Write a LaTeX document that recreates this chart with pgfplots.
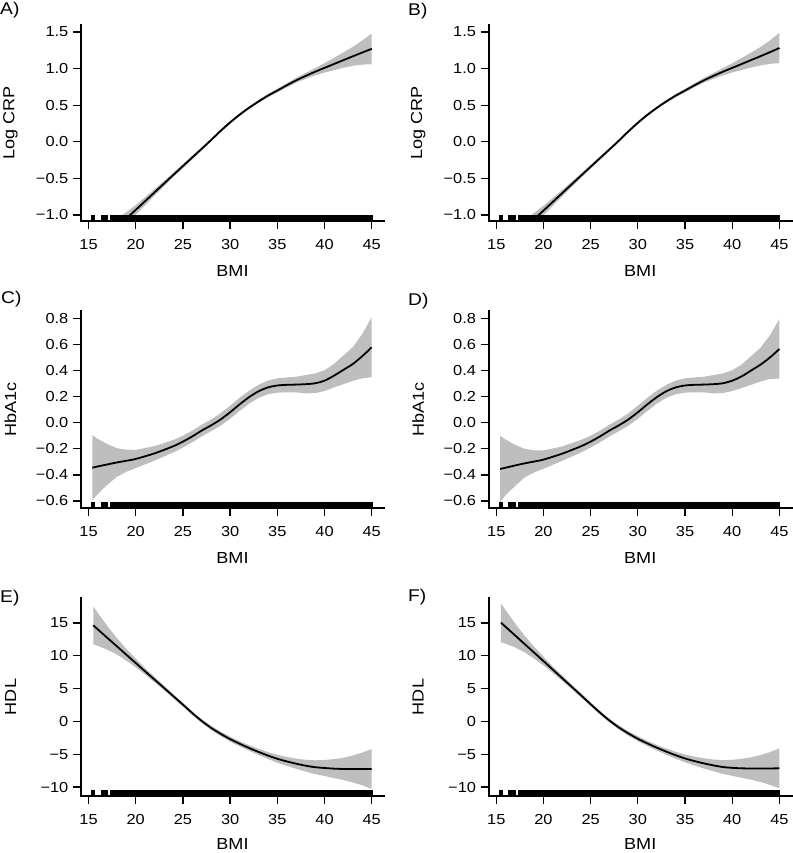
\documentclass[border=0pt]{standalone}
\usepackage{fontspec}
\setmainfont{Liberation Sans}[FakeStretch=1.13]
\usepackage{pgfplots}
\usepackage{pgfplotstable}
\pgfplotsset{compat=1.18}
\definecolor{bandgray}{RGB}{190,190,190}
\newcommand\tickfont{\fontsize{14.5}{17}\selectfont}
\newcommand\labfont{\fontsize{16}{19}\selectfont}
\newcommand\letfont{\fontsize{17}{20}\selectfont}

% x = BMI, y = fitted, hi/lo = confidence band
\pgfplotstableread{
x y hi lo
15.4 -1.46 -1.27 -1.65
17 -1.28 -1.13 -1.43
18 -1.165 -1.055 -1.275
19 -1.047 -0.962 -1.132
20 -0.93 -0.865 -0.995
22 -0.69 -0.645 -0.735
24 -0.45 -0.42 -0.48
26 -0.213 -0.188 -0.238
27.7 -0.01 0.01 -0.03
29 0.15 0.17 0.13
30 0.265 0.285 0.245
31 0.37 0.39 0.35
32 0.465 0.485 0.445
33 0.55 0.57 0.53
34 0.63 0.652 0.608
35 0.70 0.725 0.675
36 0.772 0.80 0.744
37 0.84 0.873 0.807
38 0.90 0.94 0.86
39 0.957 1.007 0.907
40 1.01 1.075 0.945
41 1.063 1.148 0.978
42 1.116 1.221 1.011
43 1.168 1.298 1.038
44 1.22 1.385 1.055
45 1.27 1.48 1.06
}\tabA
\pgfplotstableread{
x y hi lo
15.4 -1.47 -1.28 -1.66
17 -1.29 -1.14 -1.44
18 -1.175 -1.065 -1.285
19 -1.057 -0.972 -1.142
20 -0.94 -0.875 -1.005
22 -0.70 -0.655 -0.745
24 -0.46 -0.43 -0.49
26 -0.222 -0.197 -0.247
27.7 -0.02 0.0 -0.04
29 0.142 0.162 0.122
30 0.26 0.28 0.24
31 0.367 0.387 0.347
32 0.463 0.483 0.443
33 0.55 0.57 0.53
34 0.63 0.652 0.608
35 0.70 0.725 0.675
36 0.772 0.80 0.744
37 0.84 0.873 0.807
38 0.90 0.94 0.86
39 0.957 1.007 0.907
40 1.01 1.073 0.947
41 1.063 1.145 0.981
42 1.117 1.219 1.015
43 1.17 1.296 1.044
44 1.225 1.385 1.065
45 1.282 1.49 1.075
}\tabB
\pgfplotstableread{
x y hi lo
15.4 -0.345 -0.095 -0.595
16 -0.335 -0.125 -0.545
17 -0.32 -0.165 -0.475
18 -0.305 -0.195 -0.415
19 -0.292 -0.207 -0.377
20 -0.278 -0.208 -0.348
22 -0.235 -0.18 -0.29
24 -0.18 -0.132 -0.228
25 -0.145 -0.10 -0.19
26 -0.105 -0.06 -0.15
27 -0.06 -0.015 -0.105
28 -0.02 0.025 -0.065
29 0.025 0.073 -0.023
30 0.08 0.13 0.03
31 0.14 0.19 0.09
32 0.195 0.245 0.145
33 0.24 0.29 0.19
34 0.27 0.322 0.218
35 0.285 0.34 0.23
36 0.29 0.347 0.233
37 0.292 0.352 0.232
38 0.295 0.365 0.225
39 0.302 0.377 0.227
40 0.322 0.402 0.242
41 0.36 0.45 0.27
42 0.405 0.515 0.295
43 0.45 0.58 0.32
44 0.51 0.68 0.34
45 0.578 0.808 0.348
}\tabC
\pgfplotstableread{
x y hi lo
15.4 -0.355 -0.10 -0.61
16 -0.345 -0.13 -0.555
17 -0.328 -0.17 -0.485
18 -0.312 -0.20 -0.42
19 -0.298 -0.212 -0.382
20 -0.283 -0.213 -0.353
22 -0.237 -0.182 -0.292
24 -0.18 -0.132 -0.228
25 -0.145 -0.10 -0.19
26 -0.105 -0.06 -0.15
27 -0.06 -0.015 -0.105
28 -0.02 0.025 -0.065
29 0.025 0.073 -0.023
30 0.08 0.13 0.03
31 0.14 0.19 0.09
32 0.195 0.245 0.145
33 0.24 0.29 0.19
34 0.27 0.322 0.218
35 0.285 0.34 0.23
36 0.29 0.347 0.233
37 0.292 0.352 0.232
38 0.295 0.365 0.225
39 0.302 0.377 0.227
40 0.322 0.402 0.242
41 0.355 0.445 0.265
42 0.40 0.51 0.29
43 0.445 0.575 0.315
44 0.50 0.67 0.335
45 0.565 0.795 0.338
}\tabD
\pgfplotstableread{
x y hi lo
15.5 14.64 17.54 11.74
16 14.0 16.5 11.5
17 12.72 14.52 10.92
18 11.45 12.7 10.2
19 10.17 11.07 9.27
20 8.9 9.55 8.25
21 7.62 8.12 7.12
22 6.36 6.78 5.94
23 5.1 5.46 4.74
24 3.82 4.14 3.5
25 2.55 2.85 2.25
26 1.25 1.55 0.95
27 0.05 0.35 -0.25
28 -1.0 -0.68 -1.32
29 -1.9 -1.55 -2.25
30 -2.7 -2.32 -3.08
31 -3.4 -3.0 -3.8
32 -4.05 -3.62 -4.48
33 -4.65 -4.18 -5.12
34 -5.2 -4.68 -5.72
35 -5.7 -5.1 -6.3
36 -6.1 -5.42 -6.78
37 -6.45 -5.67 -7.23
38 -6.75 -5.85 -7.65
39 -6.98 -5.93 -8.03
40 -7.1 -5.88 -8.32
41 -7.2 -5.75 -8.65
42 -7.25 -5.55 -8.95
43 -7.25 -5.2 -9.3
44 -7.25 -4.75 -9.75
45 -7.25 -4.2 -10.3
}\tabE
\pgfplotstableread{
x y hi lo
15.5 15.05 17.95 12.05
16 14.4 16.95 11.85
17 13.1 14.92 11.28
18 11.8 13.07 10.53
19 10.5 11.41 9.59
20 9.2 9.86 8.54
21 7.88 8.38 7.38
22 6.57 6.99 6.15
23 5.26 5.62 4.9
24 3.95 4.27 3.63
25 2.62 2.92 2.32
26 1.32 1.62 1.02
27 0.12 0.42 -0.18
28 -0.93 -0.61 -1.25
29 -1.84 -1.49 -2.19
30 -2.65 -2.27 -3.03
31 -3.35 -2.95 -3.75
32 -4.0 -3.57 -4.43
33 -4.6 -4.13 -5.07
34 -5.15 -4.63 -5.67
35 -5.65 -5.05 -6.25
36 -6.05 -5.37 -6.73
37 -6.4 -5.62 -7.18
38 -6.7 -5.8 -7.6
39 -6.95 -5.9 -8.0
40 -7.08 -5.86 -8.3
41 -7.15 -5.7 -8.6
42 -7.18 -5.48 -8.88
43 -7.18 -5.13 -9.23
44 -7.17 -4.67 -9.67
45 -7.15 -4.1 -10.2
}\tabF
% rug of observed BMI values (x) with the rug baseline of each row (ya, yc, ye)
\pgfplotstableread[row sep=\\]{
x ya yc ye\\
15.4 -1.082 -0.654 -11.37\\15.6 -1.082 -0.654 -11.37\\16.4 -1.082 -0.654 -11.37\\16.6 -1.082 -0.654 -11.37\\
16.8 -1.082 -0.654 -11.37\\17.0 -1.082 -0.654 -11.37\\17.4 -1.082 -0.654 -11.37\\17.6 -1.082 -0.654 -11.37\\
17.8 -1.082 -0.654 -11.37\\18.0 -1.082 -0.654 -11.37\\18.2 -1.082 -0.654 -11.37\\18.4 -1.082 -0.654 -11.37\\
18.6 -1.082 -0.654 -11.37\\18.8 -1.082 -0.654 -11.37\\19.0 -1.082 -0.654 -11.37\\19.2 -1.082 -0.654 -11.37\\
19.4 -1.082 -0.654 -11.37\\19.6 -1.082 -0.654 -11.37\\19.8 -1.082 -0.654 -11.37\\20.0 -1.082 -0.654 -11.37\\
20.2 -1.082 -0.654 -11.37\\20.4 -1.082 -0.654 -11.37\\20.6 -1.082 -0.654 -11.37\\20.8 -1.082 -0.654 -11.37\\
21.0 -1.082 -0.654 -11.37\\21.2 -1.082 -0.654 -11.37\\21.4 -1.082 -0.654 -11.37\\21.6 -1.082 -0.654 -11.37\\
21.8 -1.082 -0.654 -11.37\\22.0 -1.082 -0.654 -11.37\\22.2 -1.082 -0.654 -11.37\\22.4 -1.082 -0.654 -11.37\\
22.6 -1.082 -0.654 -11.37\\22.8 -1.082 -0.654 -11.37\\23.0 -1.082 -0.654 -11.37\\23.2 -1.082 -0.654 -11.37\\
23.4 -1.082 -0.654 -11.37\\23.6 -1.082 -0.654 -11.37\\23.8 -1.082 -0.654 -11.37\\24.0 -1.082 -0.654 -11.37\\
24.2 -1.082 -0.654 -11.37\\24.4 -1.082 -0.654 -11.37\\24.6 -1.082 -0.654 -11.37\\24.8 -1.082 -0.654 -11.37\\
25.0 -1.082 -0.654 -11.37\\25.2 -1.082 -0.654 -11.37\\25.4 -1.082 -0.654 -11.37\\25.6 -1.082 -0.654 -11.37\\
25.8 -1.082 -0.654 -11.37\\26.0 -1.082 -0.654 -11.37\\26.2 -1.082 -0.654 -11.37\\26.4 -1.082 -0.654 -11.37\\
26.6 -1.082 -0.654 -11.37\\26.8 -1.082 -0.654 -11.37\\27.0 -1.082 -0.654 -11.37\\27.2 -1.082 -0.654 -11.37\\
27.4 -1.082 -0.654 -11.37\\27.6 -1.082 -0.654 -11.37\\27.8 -1.082 -0.654 -11.37\\28.0 -1.082 -0.654 -11.37\\
28.2 -1.082 -0.654 -11.37\\28.4 -1.082 -0.654 -11.37\\28.6 -1.082 -0.654 -11.37\\28.8 -1.082 -0.654 -11.37\\
29.0 -1.082 -0.654 -11.37\\29.2 -1.082 -0.654 -11.37\\29.4 -1.082 -0.654 -11.37\\29.6 -1.082 -0.654 -11.37\\
29.8 -1.082 -0.654 -11.37\\30.0 -1.082 -0.654 -11.37\\30.2 -1.082 -0.654 -11.37\\30.4 -1.082 -0.654 -11.37\\
30.6 -1.082 -0.654 -11.37\\30.8 -1.082 -0.654 -11.37\\31.0 -1.082 -0.654 -11.37\\31.2 -1.082 -0.654 -11.37\\
31.4 -1.082 -0.654 -11.37\\31.6 -1.082 -0.654 -11.37\\31.8 -1.082 -0.654 -11.37\\32.0 -1.082 -0.654 -11.37\\
32.2 -1.082 -0.654 -11.37\\32.4 -1.082 -0.654 -11.37\\32.6 -1.082 -0.654 -11.37\\32.8 -1.082 -0.654 -11.37\\
33.0 -1.082 -0.654 -11.37\\33.2 -1.082 -0.654 -11.37\\33.4 -1.082 -0.654 -11.37\\33.6 -1.082 -0.654 -11.37\\
33.8 -1.082 -0.654 -11.37\\34.0 -1.082 -0.654 -11.37\\34.2 -1.082 -0.654 -11.37\\34.4 -1.082 -0.654 -11.37\\
34.6 -1.082 -0.654 -11.37\\34.8 -1.082 -0.654 -11.37\\35.0 -1.082 -0.654 -11.37\\35.2 -1.082 -0.654 -11.37\\
35.4 -1.082 -0.654 -11.37\\35.6 -1.082 -0.654 -11.37\\35.8 -1.082 -0.654 -11.37\\36.0 -1.082 -0.654 -11.37\\
36.2 -1.082 -0.654 -11.37\\36.4 -1.082 -0.654 -11.37\\36.6 -1.082 -0.654 -11.37\\36.8 -1.082 -0.654 -11.37\\
37.0 -1.082 -0.654 -11.37\\37.2 -1.082 -0.654 -11.37\\37.4 -1.082 -0.654 -11.37\\37.6 -1.082 -0.654 -11.37\\
37.8 -1.082 -0.654 -11.37\\38.0 -1.082 -0.654 -11.37\\38.2 -1.082 -0.654 -11.37\\38.4 -1.082 -0.654 -11.37\\
38.6 -1.082 -0.654 -11.37\\38.8 -1.082 -0.654 -11.37\\39.0 -1.082 -0.654 -11.37\\39.2 -1.082 -0.654 -11.37\\
39.4 -1.082 -0.654 -11.37\\39.6 -1.082 -0.654 -11.37\\39.8 -1.082 -0.654 -11.37\\40.0 -1.082 -0.654 -11.37\\
40.2 -1.082 -0.654 -11.37\\40.4 -1.082 -0.654 -11.37\\40.6 -1.082 -0.654 -11.37\\40.8 -1.082 -0.654 -11.37\\
41.0 -1.082 -0.654 -11.37\\41.2 -1.082 -0.654 -11.37\\41.4 -1.082 -0.654 -11.37\\41.6 -1.082 -0.654 -11.37\\
41.8 -1.082 -0.654 -11.37\\42.0 -1.082 -0.654 -11.37\\42.2 -1.082 -0.654 -11.37\\42.4 -1.082 -0.654 -11.37\\
42.6 -1.082 -0.654 -11.37\\42.8 -1.082 -0.654 -11.37\\43.0 -1.082 -0.654 -11.37\\43.2 -1.082 -0.654 -11.37\\
43.4 -1.082 -0.654 -11.37\\43.6 -1.082 -0.654 -11.37\\43.8 -1.082 -0.654 -11.37\\44.0 -1.082 -0.654 -11.37\\
44.2 -1.082 -0.654 -11.37\\44.4 -1.082 -0.654 -11.37\\44.6 -1.082 -0.654 -11.37\\44.8 -1.082 -0.654 -11.37\\
45.0 -1.082 -0.654 -11.37\\
}\rug

\pgfplotsset{
  rp/.style={
    scale only axis, width=303pt,
    axis x line*=bottom, axis y line*=left,
    axis line style={line width=1.6pt, line cap=rect, -},
    tick align=outside, major tick length=8pt,
    tick style={line width=1.3pt, black},
    xmin=14.2, xmax=46.3,
    xtick={15,20,25,30,35,40,45},
    xticklabels={15,20,25,30,35,40,45},
    tick label style={font=\tickfont},
    xticklabel style={font=\tickfont, anchor=north, inner sep=0pt, yshift=-10pt},
    yticklabel style={font=\tickfont, anchor=east, inner sep=0pt, xshift=-4.5pt},
    xlabel=BMI,
    every axis x label/.style={at={(axis description cs:0.5,0)}, anchor=base, yshift=-55.5pt, font=\labfont},
    every axis y label/.style={at={(axis description cs:0,0.5)}, anchor=center, xshift=-70.5pt, rotate=90, font=\labfont},
  },
  crp/.style={rp, height=196pt, ymin=-1.082, ymax=1.596,
    ytick={-1,-0.5,0,0.5,1,1.5}, yticklabels={−1.0,−0.5,0.0,0.5,1.0,1.5}, ylabel={Log CRP}},
  hba/.style={rp, height=197pt, ymin=-0.654, ymax=0.856,
    ytick={-0.6,-0.4,-0.2,0,0.2,0.4,0.6,0.8}, yticklabels={−0.6,−0.4,−0.2,0.0,0.2,0.4,0.6,0.8}, ylabel={HbA1c}},
  hdl/.style={rp, height=198pt, ymin=-11.37, ymax=18.81,
    ytick={-10,-5,0,5,10,15}, yticklabels={−10,−5,0,5,10,15}, ylabel={HDL},
    every axis x label/.append style={yshift=2pt}},
}
\newcommand\panel[2]{%
  \addplot[draw=none, stack plots=y, forget plot] table[x=x,y=lo]{#1};
  \addplot[fill=bandgray, draw=none, stack plots=y, forget plot] table[x=x,y expr=\thisrow{hi}-\thisrow{lo}]{#1} \closedcycle;
  \addplot[black, line width=1.8pt, smooth, stack plots=false] table[x=x,y=y]{#1};
  \addplot[only marks, mark=|, mark size=3pt, mark options={line width=2pt, yshift=3pt}, stack plots=false] table[x=x, y=#2]{\rug};
}

\begin{document}
\begin{tikzpicture}
\path[use as bounding box] (0pt,0pt) rectangle (792pt,853pt);
% row 1
\begin{axis}[crp, at={(81pt,632pt)}, anchor=south west]
\panel{\tabA}{ya}
\end{axis}
\begin{axis}[crp, at={(488.7pt,632pt)}, anchor=south west]
\panel{\tabB}{ya}
\end{axis}
% row 2
\begin{axis}[hba, at={(81pt,345pt)}, anchor=south west]
\panel{\tabC}{yc}
\end{axis}
\begin{axis}[hba, at={(488.7pt,345pt)}, anchor=south west]
\panel{\tabD}{yc}
\end{axis}
% row 3
\begin{axis}[hdl, at={(81pt,57pt)}, anchor=south west]
\panel{\tabE}{ye}
\end{axis}
\begin{axis}[hdl, at={(488.7pt,57pt)}, anchor=south west]
\panel{\tabF}{ye}
\end{axis}
% panel letters
\node[anchor=base west, inner sep=0pt, font=\letfont] at (0pt,838pt) {A)};
\node[anchor=base west, inner sep=0pt, font=\letfont] at (408pt,837pt) {B)};
\node[anchor=base west, inner sep=0pt, font=\letfont] at (1pt,549pt) {C)};
\node[anchor=base west, inner sep=0pt, font=\letfont] at (408pt,547.5pt) {D)};
\node[anchor=base west, inner sep=0pt, font=\letfont] at (0pt,250pt) {E)};
\node[anchor=base west, inner sep=0pt, font=\letfont] at (408pt,251pt) {F)};
\end{tikzpicture}
\end{document}
